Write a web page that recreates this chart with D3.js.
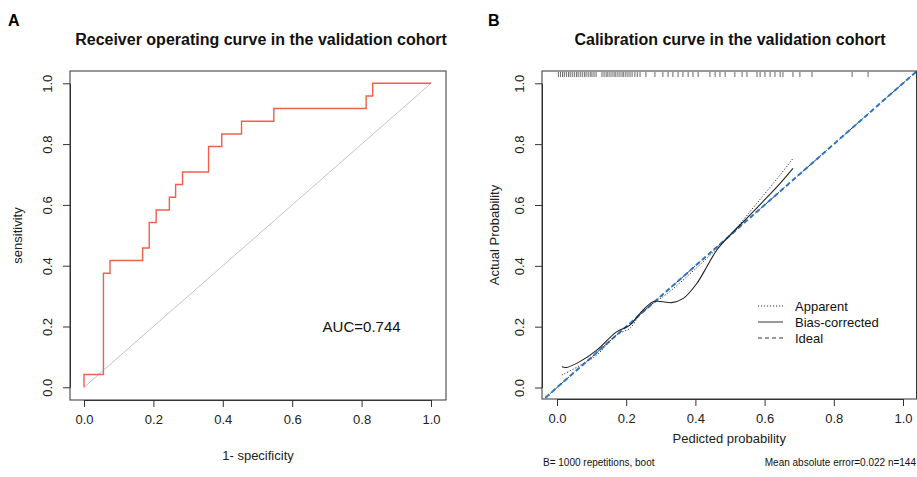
<!DOCTYPE html>
<html>
<head>
<meta charset="utf-8">
<script src="https://cdn.jsdelivr.net/npm/d3@7"></script>
<style>
  body { margin: 0; background: #fff; }
  svg { display: block; font-family: "Liberation Sans", Arial, sans-serif; }
</style>
</head>
<body>
<script>
// ROC curve (validation cohort), corner points for a step-before curve
const rocFpr = [0, 0.056, 0.075, 0.169, 0.188, 0.208, 0.246, 0.264, 0.284, 0.359, 0.397, 0.454, 0.547, 0.813, 0.832, 1];
const rocTpr = [0, 0.042, 0.375, 0.417, 0.458, 0.542, 0.583, 0.625, 0.667, 0.708, 0.792, 0.833, 0.875, 0.917, 0.958, 1];
const aucLabel = "AUC=0.744";

// calibration curves
const appX = [0.014, 0.066, 0.115, 0.172, 0.211, 0.24, 0.278, 0.32, 0.4, 0.5, 0.577, 0.645, 0.682];
const appY = [0.041, 0.072, 0.107, 0.173, 0.195, 0.24, 0.276, 0.31, 0.39, 0.5, 0.605, 0.699, 0.753];
const biasX = [0.014, 0.028, 0.066, 0.115, 0.172, 0.211, 0.24, 0.278, 0.307, 0.331, 0.365, 0.404, 0.433, 0.462, 0.5, 0.548, 0.596, 0.645, 0.682];
const biasY = [0.068, 0.066, 0.085, 0.123, 0.183, 0.205, 0.244, 0.282, 0.282, 0.279, 0.293, 0.342, 0.397, 0.452, 0.501, 0.556, 0.612, 0.671, 0.72];

// predicted probabilities shown as the rug on top
const rugX = [0.004, 0.01, 0.016, 0.021, 0.027, 0.033, 0.038, 0.044, 0.05, 0.056, 0.061, 0.067, 0.073, 0.079, 0.084, 0.09, 0.096, 0.101, 0.107, 0.113,
  0.13, 0.136, 0.142, 0.147, 0.153, 0.159, 0.165, 0.17, 0.176, 0.182, 0.188, 0.193, 0.199, 0.205, 0.211,
  0.217, 0.225, 0.232, 0.24, 0.257,
  0.283, 0.306, 0.321, 0.335, 0.35, 0.364, 0.379, 0.393, 0.408,
  0.442, 0.457, 0.471, 0.486, 0.514, 0.535, 0.549,
  0.578, 0.587, 0.601, 0.616, 0.63, 0.645, 0.653,
  0.682, 0.702, 0.737, 0.853, 0.899];

const ticks = [0, 0.2, 0.4, 0.6, 0.8, 1.0];
const legendLabels = ["Apparent", "Bias-corrected", "Ideal"];

const W = 917, H = 477;
const svg = d3.select("body").append("svg").attr("width", W).attr("height", H);

const fmt = d3.format(".1f");
const boxColor = "#333";

function drawAxes(g, x, y, box) {
  // box
  g.append("rect")
    .attr("x", box.l).attr("y", box.t)
    .attr("width", box.r - box.l).attr("height", box.b - box.t)
    .attr("fill", "none").attr("stroke", boxColor).attr("stroke-width", 1);

  const xa = g.append("g").attr("transform", `translate(0,${box.b})`)
    .call(d3.axisBottom(x).tickValues(ticks).tickFormat(fmt).tickSize(7).tickSizeOuter(0).tickPadding(8));
  const ya = g.append("g").attr("transform", `translate(${box.l},0)`)
    .call(d3.axisLeft(y).tickValues(ticks).tickFormat(fmt).tickSize(7).tickSizeOuter(0));

  [xa, ya].forEach(a => {
    a.select(".domain").attr("stroke", boxColor);
    a.selectAll(".tick line").attr("stroke", boxColor);
    a.selectAll("text").attr("font-size", 13).attr("fill", "#222")
      .attr("font-family", "Liberation Sans, Arial, sans-serif");
  });
  ya.selectAll(".tick text")
    .attr("x", 0).attr("dy", 0)
    .attr("text-anchor", "middle")
    .attr("transform", "translate(-18.5,0) rotate(-90)");
}

// ---------- panel A: ROC ----------
const boxA = {l: 70, t: 71, r: 446, b: 400};
const xA = d3.scaleLinear().domain([0, 1]).range([84, 431]);
const yA = d3.scaleLinear().domain([0, 1]).range([387.3, 83.3]);
const gA = svg.append("g");

gA.append("text").attr("x", 8).attr("y", 26).text("A")
  .attr("font-weight", "bold").attr("font-size", 16);
gA.append("text").attr("x", 261).attr("y", 45)
  .attr("text-anchor", "middle").attr("font-weight", "bold").attr("font-size", 16)
  .attr("fill", "#111")
  .text("Receiver operating curve in the validation cohort");

drawAxes(gA, xA, yA, boxA);

gA.append("line")
  .attr("x1", xA(0)).attr("y1", yA(0)).attr("x2", xA(1)).attr("y2", yA(1))
  .attr("stroke", "#c4c4c4").attr("stroke-width", 1);

const rocLine = d3.line().x(d => xA(d[0])).y(d => yA(d[1])).curve(d3.curveStepBefore);
gA.append("path")
  .datum(rocFpr.map((f, i) => [f, rocTpr[i]]))
  .attr("fill", "none").attr("stroke", "#f0604c").attr("stroke-width", 1.4)
  .attr("d", rocLine);

gA.append("text").attr("x", xA(0.8)).attr("y", yA(0.2)).attr("dy", "0.35em")
  .attr("text-anchor", "middle").attr("font-size", 15).attr("fill", "#111")
  .text(aucLabel);

gA.append("text").attr("x", (boxA.l + boxA.r) / 2).attr("y", 460)
  .attr("text-anchor", "middle").attr("font-size", 13).attr("fill", "#222")
  .text("1- specificity");
gA.append("text").attr("transform", `translate(22,${(boxA.t + boxA.b) / 2}) rotate(-90)`)
  .attr("text-anchor", "middle").attr("font-size", 13).attr("fill", "#222")
  .text("sensitivity");

// ---------- panel B: calibration ----------
const boxB = {l: 542, t: 71, r: 916.5, b: 399};
const xB = d3.scaleLinear().domain([0, 1]).range([557, 903]);
const yB = d3.scaleLinear().domain([0, 1]).range([387.5, 83.3]);
const gB = svg.append("g");

gB.append("text").attr("x", 488).attr("y", 26).text("B")
  .attr("font-weight", "bold").attr("font-size", 16);
gB.append("text").attr("x", 730).attr("y", 45)
  .attr("text-anchor", "middle").attr("font-weight", "bold").attr("font-size", 16)
  .attr("fill", "#111")
  .text("Calibration curve in the validation cohort");

gB.append("clipPath").attr("id", "clipB").append("rect")
  .attr("x", boxB.l).attr("y", boxB.t).attr("width", boxB.r - boxB.l).attr("height", boxB.b - boxB.t);

const plotB = gB.append("g").attr("clip-path", "url(#clipB)");

// rug
plotB.selectAll("line.rug").data(rugX).join("line")
  .attr("class", "rug")
  .attr("x1", d => xB(d)).attr("x2", d => xB(d))
  .attr("y1", boxB.t + 1).attr("y2", boxB.t + 6)
  .attr("stroke", "#666").attr("stroke-width", 1);

// ideal
const ext = [-0.05, 1.05];
plotB.append("line")
  .attr("x1", xB(ext[0])).attr("y1", yB(ext[0])).attr("x2", xB(ext[1])).attr("y2", yB(ext[1]))
  .attr("stroke", "#333").attr("stroke-width", 1).attr("stroke-dasharray", "4,3");
plotB.append("line")
  .attr("x1", xB(ext[0])).attr("y1", yB(ext[0])).attr("x2", xB(ext[1])).attr("y2", yB(ext[1]))
  .attr("stroke", "#2f74c8").attr("stroke-width", 2).attr("stroke-dasharray", "5,3");

const curveLine = d3.line().x(d => xB(d[0])).y(d => yB(d[1])).curve(d3.curveCatmullRom.alpha(0.5));
plotB.append("path")
  .datum(appX.map((v, i) => [v, appY[i]]))
  .attr("fill", "none").attr("stroke", "#333").attr("stroke-width", 1)
  .attr("stroke-dasharray", "1.2,1.8")
  .attr("d", curveLine);
plotB.append("path")
  .datum(biasX.map((v, i) => [v, biasY[i]]))
  .attr("fill", "none").attr("stroke", "#222").attr("stroke-width", 1.1)
  .attr("d", curveLine);

drawAxes(gB, xB, yB, boxB);

// legend
const dashes = ["1.2,1.8", null, "4,3"];
const lg = gB.append("g");
legendLabels.forEach((lab, i) => {
  const yy = 306 + i * 16;
  lg.append("line").attr("x1", 758).attr("x2", 783).attr("y1", yy).attr("y2", yy)
    .attr("stroke", "#333").attr("stroke-width", 1)
    .attr("stroke-dasharray", dashes[i]);
  lg.append("text").attr("x", 795).attr("y", yy).attr("dy", "0.35em")
    .attr("font-size", 13).attr("fill", "#111").text(lab);
});

gB.append("text").attr("x", (boxB.l + boxB.r) / 2).attr("y", 443)
  .attr("text-anchor", "middle").attr("font-size", 13).attr("fill", "#222")
  .text("Pedicted probability");
gB.append("text").attr("transform", `translate(499,${(boxB.t + boxB.b) / 2}) rotate(-90)`)
  .attr("text-anchor", "middle").attr("font-size", 13).attr("fill", "#222")
  .text("Actual Probability");

gB.append("text").attr("x", 543).attr("y", 466)
  .attr("font-size", 10).attr("fill", "#111").text("B= 1000 repetitions, boot");
gB.append("text").attr("x", 916).attr("y", 466).attr("text-anchor", "end")
  .attr("font-size", 10).attr("fill", "#111").text("Mean absolute error=0.022 n=144");
</script>
</body>
</html>
